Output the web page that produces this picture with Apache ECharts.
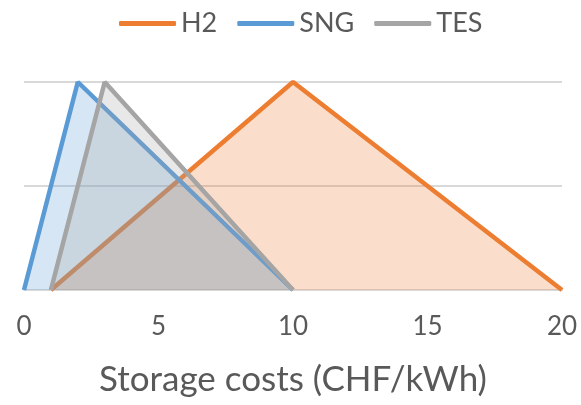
<!DOCTYPE html>
<html>
<head>
<meta charset="utf-8">
<script src="https://cdn.jsdelivr.net/npm/echarts@6/dist/echarts.min.js"></script>
<style>
  html, body { margin: 0; padding: 0; background: #fff; }
  #main { width: 581px; height: 405px; }
</style>
</head>
<body>
<div id="main"></div>
<script>
// triangular distributions: [cost, relative value]
const h2 = [[1, 0], [10, 1], [20, 0]];
const sng = [[0, 0], [2, 1], [10, 0]];
const tes = [[1, 0], [3, 1], [10, 0]];
const seriesNames = ['H2', 'SNG', 'TES'];
const colors = ['#ED7D31', '#5B9BD5', '#A5A5A5'];
const xTicks = [0, 5, 10, 15, 20];

const font = 'Lato, "Open Sans", sans-serif';
const chart = echarts.init(document.getElementById('main'), null, { renderer: 'canvas' });

const series = [h2, sng, tes].map((d, i) => ({
  name: seriesNames[i],
  type: 'line',
  data: d,
  showSymbol: false,
  lineStyle: { color: colors[i], width: 4.5 },
  itemStyle: { color: colors[i] },
  areaStyle: { color: colors[i], opacity: 0.25 },
  z: 2 + i
}));

chart.setOption({
  animation: false,
  color: colors,
  legend: {
    top: 5,
    left: 114,
    icon: 'roundRect',
    itemWidth: 57,
    itemHeight: 5,
    itemGap: 20,
    textStyle: { fontFamily: font, fontSize: 27, color: '#595959' },
    data: seriesNames
  },
  grid: { left: 24, right: 19, top: 82, bottom: 115, outerBoundsMode: 'none' },
  xAxis: {
    type: 'value',
    min: xTicks[0],
    max: xTicks[xTicks.length - 1],
    interval: 5,
    axisLine: { show: true, lineStyle: { color: '#d9d9d9', width: 2 } },
    axisTick: { show: false },
    splitLine: { show: false },
    axisLabel: { fontFamily: font, fontSize: 26, color: '#595959', margin: 24 },
    name: 'Storage costs (CHF/kWh)',
    nameLocation: 'middle',
    nameGap: 72,
    nameTextStyle: { fontFamily: font, fontSize: 35, color: '#595959' }
  },
  yAxis: {
    type: 'value',
    min: 0,
    max: 1,
    interval: 0.5,
    axisLine: { show: false },
    axisTick: { show: false },
    axisLabel: { show: false },
    splitLine: { lineStyle: { color: '#d9d9d9', width: 2 } }
  },
  series: series
});
</script>
</body>
</html>
